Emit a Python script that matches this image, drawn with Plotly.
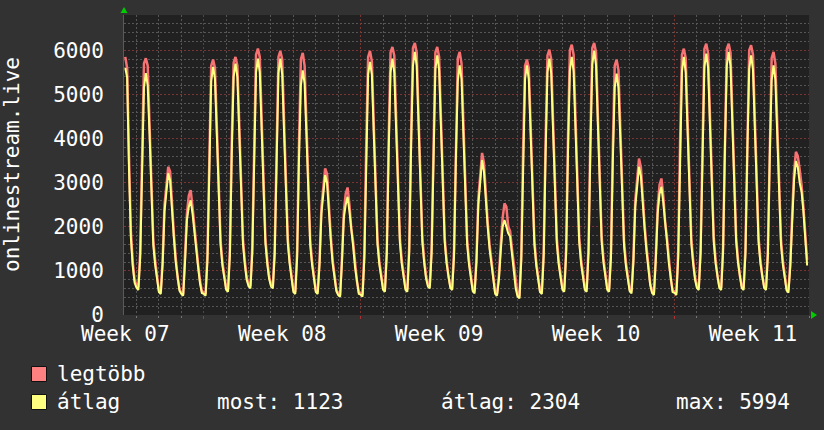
import plotly.graph_objects as go
import pandas as pd

# ---------------- data (2-hour samples) ----------------
START = "2025-02-13 12:00"
STEP = "2h"

# "legtöbb" (max) series, per day 00:00 .. 22:00
legtobb = (
    [5850, 5590, 3600, 1900, 1200, 800]                                            # Feb 13 (from 12:00)
    + [680, 630, 1450, 3900, 5700, 5820, 5650, 4300, 2750, 1700, 1230, 850]          # Feb 14 Fri
    + [560, 520, 1250, 2500, 3000, 3360, 3250, 2450, 1850, 1300, 860, 600]           # Feb 15 Sat
    + [500, 470, 1300, 2300, 2700, 2830, 2450, 1950, 1650, 1150, 780, 540]           # Feb 16 Sun
    + [520, 480, 1400, 3850, 5650, 5789, 5600, 4300, 2750, 1700, 1200, 840]          # Feb 17 Mon
    + [620, 580, 1500, 3950, 5720, 5849, 5650, 4350, 2800, 1720, 1230, 860]          # Feb 18
    + [700, 660, 1550, 4000, 5900, 6038, 5850, 4450, 2850, 1750, 1250, 880]          # Feb 19
    + [700, 660, 1500, 4000, 5850, 5985, 5800, 4400, 2820, 1740, 1240, 860]          # Feb 20
    + [560, 520, 1450, 3900, 5800, 5940, 5650, 4300, 2750, 1700, 1220, 860]          # Feb 21
    + [560, 520, 1250, 2450, 2950, 3321, 3200, 2400, 1800, 1250, 840, 580]           # Feb 22 Sat
    + [480, 450, 1300, 2350, 2750, 2890, 2500, 1950, 1650, 1150, 770, 520]           # Feb 23 Sun
    + [500, 460, 1450, 3900, 5850, 5985, 5750, 4350, 2800, 1720, 1220, 850]          # Feb 24 Mon
    + [620, 580, 1500, 4000, 5950, 6075, 5880, 4450, 2850, 1750, 1250, 870]          # Feb 25
    + [620, 580, 1550, 4100, 6050, 6166, 5950, 4500, 2900, 1780, 1270, 890]          # Feb 26
    + [700, 660, 1550, 4050, 5950, 6075, 5850, 4450, 2850, 1750, 1250, 870]          # Feb 27
    + [660, 620, 1500, 3950, 5820, 5962, 5700, 4350, 2800, 1720, 1230, 860]          # Feb 28
    + [580, 540, 1300, 2650, 3250, 3675, 3450, 2650, 2100, 1600, 1200, 800]          # Mar 1 Sat
    + [520, 480, 900, 1600, 2200, 2528, 2450, 2000, 1900, 1500, 1100, 700]           # Mar 2 Sun
    + [460, 420, 1400, 3850, 5650, 5789, 5600, 4300, 2750, 1700, 1200, 840]          # Mar 3 Mon
    + [560, 520, 1480, 3950, 5880, 6015, 5800, 4400, 2830, 1740, 1240, 860]          # Mar 4
    + [620, 580, 1520, 4050, 6000, 6128, 5900, 4480, 2880, 1760, 1260, 880]          # Mar 5
    + [620, 580, 1550, 4100, 6050, 6166, 5950, 4500, 2900, 1780, 1270, 890]          # Mar 6
    + [620, 580, 1450, 3850, 5650, 5789, 5550, 4250, 2720, 1680, 1200, 840]          # Mar 7
    + [580, 540, 1300, 2600, 3150, 3547, 3350, 2600, 2050, 1550, 1100, 720]          # Mar 8 Sat
    + [540, 500, 1350, 2450, 2950, 3094, 2700, 2100, 1750, 1250, 830, 560]           # Mar 9 Sun
    + [540, 500, 1450, 3950, 5900, 6038, 5820, 4400, 2830, 1740, 1240, 860]          # Mar 10 Mon
    + [660, 620, 1550, 4100, 6030, 6151, 5930, 4500, 2900, 1770, 1260, 880]          # Mar 11
    + [660, 620, 1550, 4100, 6030, 6151, 5940, 4500, 2900, 1770, 1260, 880]          # Mar 12
    + [660, 620, 1530, 4050, 6000, 6113, 5900, 4470, 2870, 1760, 1250, 870]          # Mar 13
    + [660, 620, 1500, 3950, 5820, 5962, 5700, 4350, 2800, 1720, 1230, 860]          # Mar 14
    + [600, 560, 1200, 2300, 3250, 3698, 3600, 3300, 2950, 2450, 1850, 1250]         # Mar 15 Sat
)

# "átlag" (average) series
atlag = (
    [5600, 5380, 3300, 1750, 1100, 730]
    + [620, 566, 1300, 3550, 5150, 5480, 5200, 4100, 2550, 1580, 1130, 780]
    + [520, 475, 1150, 2350, 2850, 3210, 3050, 2300, 1750, 1200, 800, 550]
    + [480, 437, 1200, 2150, 2450, 2600, 2300, 1850, 1550, 1080, 720, 500]
    + [480, 437, 1250, 3500, 5300, 5622, 5350, 4100, 2600, 1600, 1120, 780]
    + [570, 528, 1350, 3650, 5400, 5698, 5400, 4150, 2620, 1610, 1140, 800]
    + [650, 604, 1400, 3700, 5500, 5811, 5500, 4200, 2650, 1640, 1160, 820]
    + [650, 604, 1380, 3700, 5480, 5811, 5450, 4150, 2630, 1620, 1150, 800]
    + [520, 475, 1300, 3550, 5200, 5547, 5250, 4050, 2550, 1580, 1130, 790]
    + [520, 475, 1150, 2300, 2800, 3170, 3000, 2250, 1700, 1170, 780, 540]
    + [450, 415, 1200, 2200, 2500, 2680, 2350, 1850, 1550, 1080, 710, 480]
    + [460, 415, 1300, 3600, 5450, 5736, 5450, 4150, 2620, 1610, 1140, 790]
    + [570, 528, 1380, 3700, 5500, 5811, 5500, 4200, 2650, 1640, 1160, 810]
    + [570, 528, 1420, 3800, 5650, 5962, 5650, 4300, 2700, 1670, 1180, 830]
    + [650, 604, 1400, 3750, 5580, 5887, 5550, 4250, 2680, 1650, 1170, 820]
    + [610, 566, 1350, 3600, 5300, 5660, 5350, 4100, 2600, 1600, 1140, 800]
    + [540, 490, 1200, 2500, 3100, 3509, 3250, 2500, 2000, 1500, 1130, 750]
    + [480, 437, 800, 1450, 2000, 2151, 2000, 1850, 1780, 1400, 1000, 600]
    + [420, 377, 1250, 3500, 5350, 5660, 5350, 4100, 2600, 1600, 1120, 780]
    + [520, 475, 1350, 3650, 5500, 5811, 5480, 4180, 2640, 1620, 1150, 800]
    + [570, 528, 1380, 3720, 5540, 5849, 5520, 4220, 2670, 1650, 1160, 810]
    + [570, 528, 1420, 3800, 5680, 5994, 5660, 4300, 2700, 1670, 1180, 830]
    + [570, 528, 1300, 3500, 5150, 5472, 5150, 4000, 2520, 1560, 1110, 770]
    + [540, 490, 1200, 2450, 3000, 3358, 3150, 2450, 1950, 1450, 1030, 680]
    + [500, 453, 1250, 2300, 2750, 2906, 2550, 2000, 1650, 1170, 770, 520]
    + [500, 453, 1300, 3650, 5520, 5849, 5500, 4180, 2640, 1620, 1150, 800]
    + [610, 566, 1400, 3780, 5620, 5924, 5600, 4280, 2700, 1660, 1170, 820]
    + [610, 566, 1420, 3800, 5650, 5962, 5640, 4300, 2710, 1670, 1180, 830]
    + [610, 566, 1400, 3750, 5580, 5887, 5560, 4250, 2680, 1650, 1170, 820]
    + [610, 566, 1350, 3600, 5320, 5660, 5330, 4100, 2600, 1600, 1140, 800]
    + [560, 505, 1100, 2100, 3056, 3487, 3350, 3000, 2800, 2350, 1750, 1123]
)

week_starts = ["2025-02-17", "2025-02-24", "2025-03-03", "2025-03-10"]
week_centers = ["2025-02-13 12:00", "2025-02-20 12:00", "2025-02-27 12:00",
                "2025-03-06 12:00", "2025-03-13 12:00"]
week_labels = ["Week 07", "Week 08", "Week 09", "Week 10", "Week 11"]
x_range = ["2025-02-13 10:38", "2025-03-16 00:00"]
y_ticks = [0, 1000, 2000, 3000, 4000, 5000, 6000]
y_range = [0, 6800]

series_names = ["legtöbb", "átlag"]
stat_most = "most: 1123"
stat_avg = "átlag: 2304"
stat_max = "max: 5994"
y_title = "onlinestream.live"

# ---------------- styling ----------------
FONT = "DejaVu Sans Mono"
PAPER = "#323232"
PLOT = "#212121"
RED = "#f77272"
YEL = "#ffff80"
MINOR = "#565656"
MAJOR = "#7a3434"

W, H = 824, 430
L, R, T, B = 124, 15, 15, 115
PW, PH = W - L - R, H - T - B


def px(xp):
    return (xp - L) / PW


def py(yp):
    return (H - B - yp) / PH


times = pd.date_range(START, periods=len(atlag), freq=STEP)

fig = go.Figure()
fig.add_trace(go.Scatter(x=times, y=legtobb, mode="lines", name=series_names[0],
                         line=dict(color=RED, width=2.5), hoverinfo="skip", showlegend=False))
fig.add_trace(go.Scatter(x=times, y=atlag, mode="lines", name=series_names[1],
                         line=dict(color=YEL, width=2), hoverinfo="skip", showlegend=False))
# invisible helper trace for the label axis
fig.add_trace(go.Scatter(x=week_centers, y=[None] * len(week_centers), xaxis="x2",
                         mode="markers", marker=dict(opacity=0), hoverinfo="skip", showlegend=False))

fig.update_layout(
    width=W, height=H,
    margin=dict(l=L, r=R, t=T, b=B, pad=0, autoexpand=False),
    paper_bgcolor=PAPER, plot_bgcolor=PLOT,
    font=dict(family=FONT, size=21, color="#ffffff"),
    xaxis=dict(
        type="date", range=x_range, automargin=False,
        tickmode="array", tickvals=week_starts, showticklabels=False,
        showgrid=True, gridcolor=MAJOR, griddash="2px,2px", gridwidth=1,
        ticks="outside", ticklen=3, tickcolor="#b03030",
        minor=dict(dtick=86400000, tick0="2025-02-14", showgrid=True, gridcolor=MINOR,
                   griddash="2px,2px", ticks="outside", ticklen=2, tickcolor="#777777"),
        showline=False, zeroline=False,
    ),
    xaxis2=dict(
        type="date", overlaying="x", matches="x", side="bottom", automargin=False,
        tickmode="array", tickvals=week_centers, ticktext=week_labels,
        showgrid=False, ticks="", ticklabelstandoff=4, showline=False, zeroline=False,
        tickfont=dict(family=FONT, size=21, color="#ffffff"),
    ),
    yaxis=dict(
        range=y_range, tickmode="array", tickvals=y_ticks, automargin=False,
        showgrid=True, gridcolor=MAJOR, griddash="2px,2px", gridwidth=1,
        minor=dict(dtick=200, showgrid=True, gridcolor=MINOR, griddash="2px,2px"),
        ticks="", ticklabelstandoff=15, zeroline=False,
        showline=True, linecolor="#5a5a5a", linewidth=1,
        tickfont=dict(family=FONT, size=21, color="#ffffff"),
    ),
)

# y-axis title
fig.add_annotation(text=y_title, textangle=-90, xref="paper", yref="paper",
                   x=px(12), y=0.5, xanchor="center", yanchor="middle", showarrow=False,
                   font=dict(family=FONT, size=21, color="#ffffff"))

# green axis arrows
fig.add_shape(type="path", xref="paper", yref="paper", xsizemode="pixel", ysizemode="pixel",
              xanchor=0, yanchor=1, path="M -3.5,2 L 3.5,2 L 0,8 Z",
              fillcolor="#00cc00", line=dict(width=0))
fig.add_shape(type="path", xref="paper", yref="paper", xsizemode="pixel", ysizemode="pixel",
              xanchor=1, yanchor=0, path="M 2,-4 L 2,4 L 8,0 Z",
              fillcolor="#00cc00", line=dict(width=0))

# legend
box_colors = ["#ff8080", "#ffff80"]
rows_y = [374, 402]
for name, bc, yy in zip(series_names, box_colors, rows_y):
    fig.add_shape(type="rect", xref="paper", yref="paper",
                  x0=px(31.5), x1=px(46.5), y0=py(yy - 7.5), y1=py(yy + 7.5),
                  fillcolor=bc, line=dict(color="#111111", width=1))
    fig.add_annotation(text=name, xref="paper", yref="paper", x=px(55), y=py(yy),
                       xanchor="left", yanchor="middle", showarrow=False,
                       font=dict(family=FONT, size=21, color="#ffffff"))

for txt, xx in zip([stat_most, stat_avg, stat_max], [215, 439, 674]):
    fig.add_annotation(text=txt, xref="paper", yref="paper", x=px(xx), y=py(rows_y[1]),
                       xanchor="left", yanchor="middle", showarrow=False,
                       font=dict(family=FONT, size=21, color="#ffffff"))

fig.write_html("out.html", config={"displayModeBar": False, "staticPlot": True},
               post_script="document.body.style.margin='0';")
